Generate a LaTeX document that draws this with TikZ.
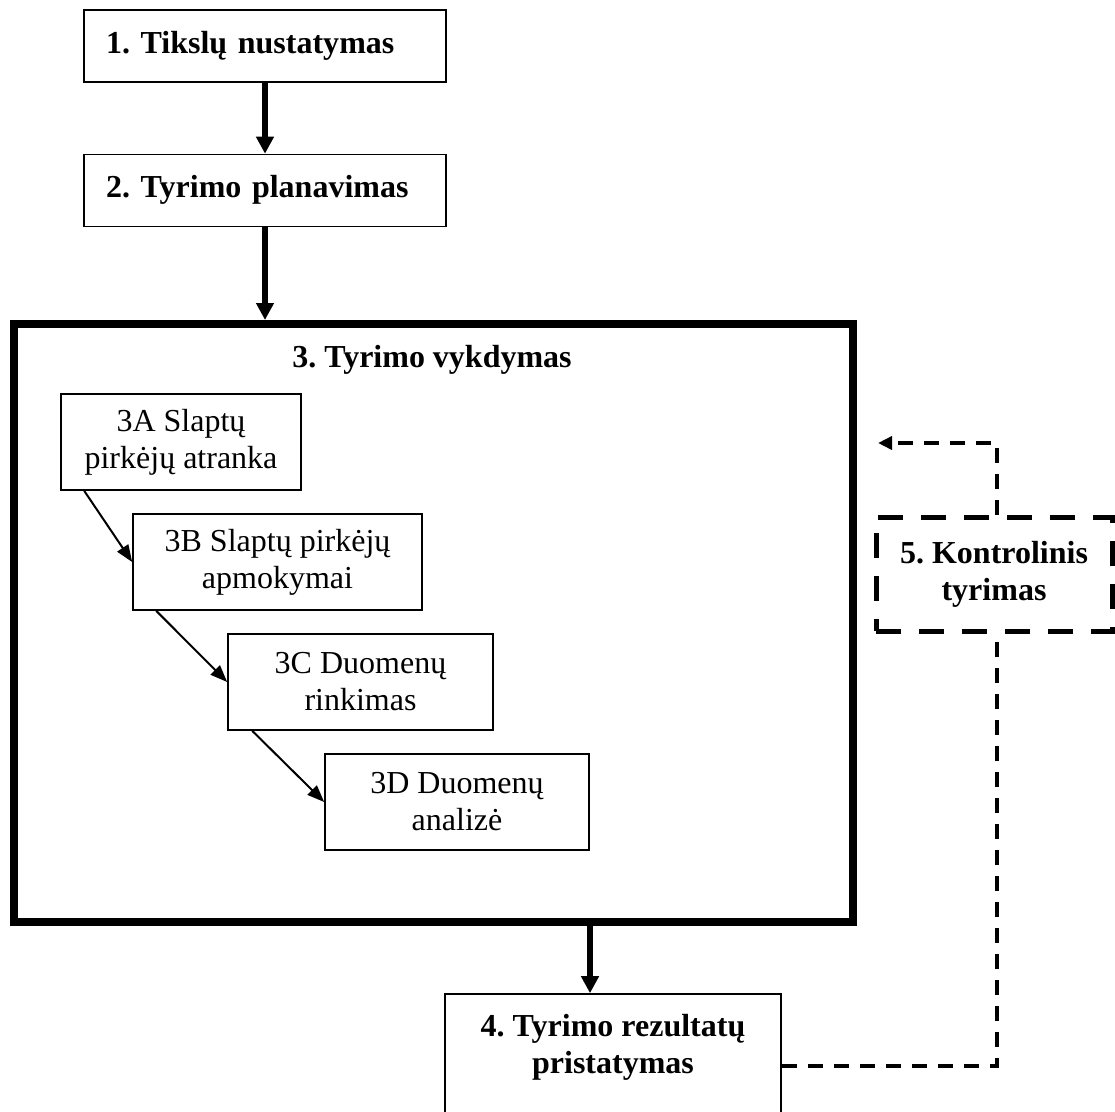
\documentclass[tikz,border=0pt]{standalone}
\usepackage{fontspec}
\setmainfont{Liberation Serif}
\usetikzlibrary{arrows.meta}
\frenchspacing
\begin{document}
\begin{tikzpicture}[x=1pt,y=-1pt,
  txt/.style={font=\fontsize{32}{37}\selectfont},
  stage/.style={draw,line width=1.6pt,inner sep=0pt,font=\fontsize{32}{37}\selectfont\bfseries},
  leftstage/.style={stage,minimum width=362pt,minimum height=72pt,text width=318pt,align=left,text height=21pt,text depth=7pt},
  substage/.style={draw,line width=1.6pt,inner sep=0pt,align=center,minimum height=96pt,font=\fontsize{32}{37}\selectfont},
  flow/.style={line width=6pt,-{Triangle[width=17pt,length=17pt]}},
  subflow/.style={line width=2pt,-{Triangle[width=13pt,length=17pt]}},
  checkline/.style={line width=3.5pt,dash pattern=on 15pt off 11pt},
]
\useasboundingbox (0,0) rectangle (1115,1111);
\clip (0,0) rectangle (1115,1111);

% main stages
\node[leftstage] (goal) at (265,46) {1. Tikslų nustatymas};
\node[leftstage] (plan) at (265,190.5) {2. Tyrimo planavimas};

% execution frame with its sub-steps
\node[draw,line width=8pt,minimum width=839pt,minimum height=598pt] (exec) at (433.5,623) {};
\node[txt,font=\fontsize{32}{37}\selectfont\bfseries,anchor=base] (title) at (432,367) {3. Tyrimo vykdymas};

\node[substage,minimum width=240pt] (s3a) at (181,442) {3A Slaptų\\pirkėjų atranka};
\node[substage,minimum width=289pt] (s3b) at (277.5,562) {3B Slaptų pirkėjų\\apmokymai};
\node[substage,minimum width=265pt] (s3c) at (360.5,682) {3C Duomenų\\rinkimas};
\node[substage,minimum width=264pt] (s3d) at (457,802) {3D Duomenų\\analizė};

% results and control study
\node[stage,align=center,minimum width=336pt,minimum height=131pt,text depth=31pt] (report) at (613,1059.5) {4. Tyrimo rezultatų\\pristatymas};
\node[stage,align=center,line width=5pt,dash pattern=on 25pt off 18pt,minimum width=236pt,minimum height=114pt] (control) at (994,574) {5. Kontrolinis\\tyrimas};

% flow arrows
\draw[flow] (goal) -- (plan);
\draw[flow] (plan) -- (plan |- exec.north);
\draw[flow] ([xshift=-23pt]report.north |- exec.south) -- ([xshift=-23pt]report.north);

\draw[subflow] ([xshift=24pt]s3a.south west) -- (s3b.west);
\draw[subflow] ([xshift=24pt]s3b.south west) -- (s3c.west);
\draw[subflow] ([xshift=25pt]s3c.south west) -- (s3d.west);

% control study feedback
\coordinate (back) at (878,443);
\draw[checkline,-{Triangle[width=13pt,length=14pt]}] ([xshift=3pt]control.north) |- (back);
\draw[checkline] ([yshift=-6.5pt]report.east) -| ([xshift=3pt]control.south);
\end{tikzpicture}
\end{document}
